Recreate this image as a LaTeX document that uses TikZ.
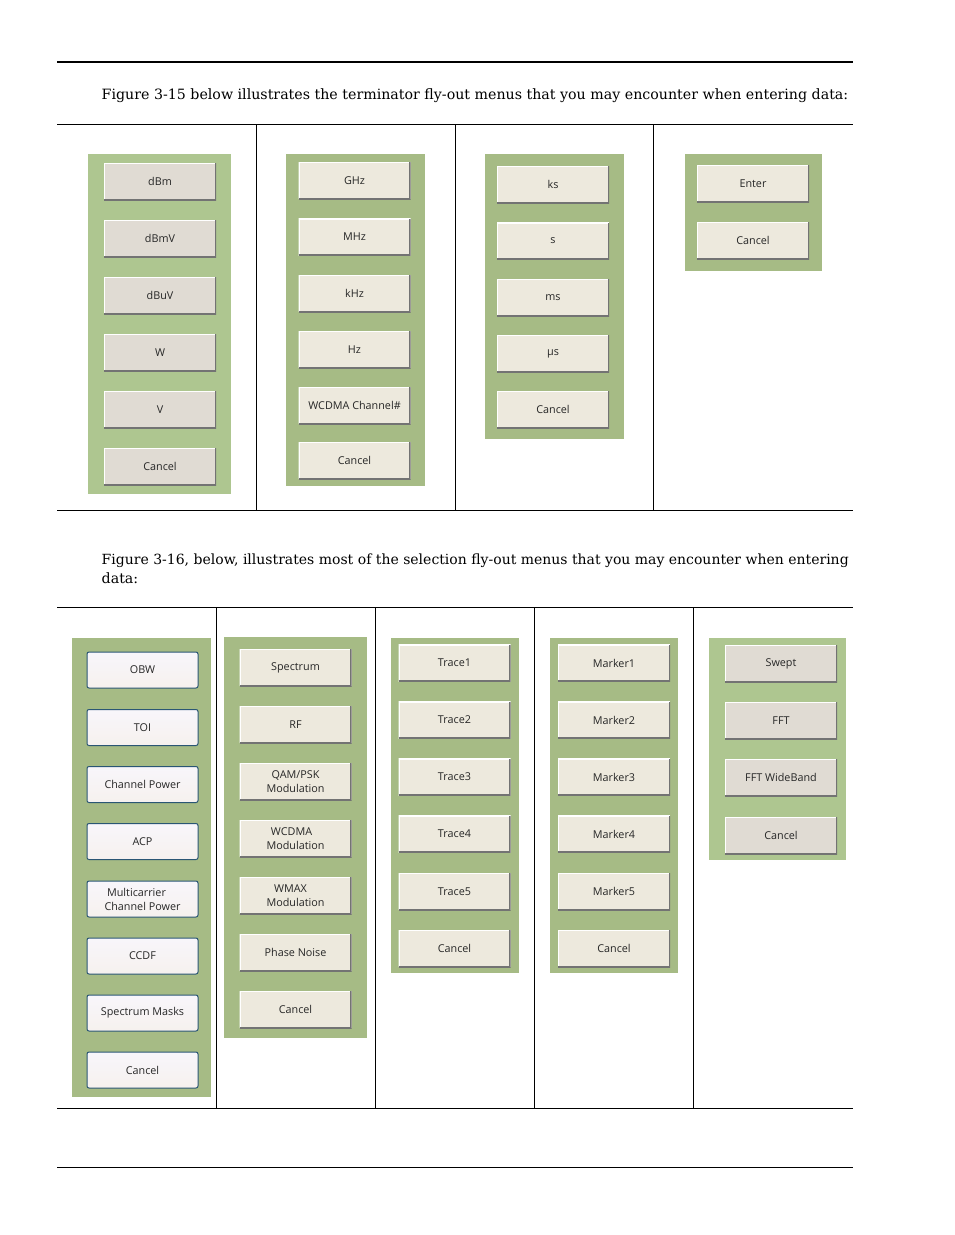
\documentclass[tikz,border=0pt]{standalone}
\usepackage{fontspec}
\usepackage{xcolor}
\setmainfont{DejaVu Serif}
\newfontfamily\btnfont{Open Sans}
\definecolor{panelA}{HTML}{AEC690}
\definecolor{panelB}{HTML}{A6BB85}
\definecolor{faceA}{HTML}{E0DBD3}
\definecolor{faceB}{HTML}{EDE9DD}
\definecolor{edgeC}{HTML}{2A5674}
\definecolor{topC}{HTML}{F8F6FB}
\definecolor{bottomC}{HTML}{F6F1EE}
\tikzset{
 menubtn/.style={inner sep=0pt, minimum width=112pt, minimum height=37pt, align=center,
  font=\btnfont\fontsize{10.8}{14}\selectfont, text=black!85,
  path picture={
   \draw [white, line width=2pt] (path picture bounding box.south west) |- (path picture bounding box.north east);
   \draw [black!55, line width=2.4pt] (path picture bounding box.south west) -| (path picture bounding box.north east);
  }},
 btnA/.style={menubtn, fill=faceA},
 btnB/.style={menubtn, fill=faceB},
 btnC/.style={inner sep=0pt, minimum width=111pt, minimum height=36pt, align=center,
  font=\btnfont\fontsize{10.8}{14}\selectfont, text=black!85,
  top color=topC, bottom color=bottomC, draw=edgeC, line width=1pt, rounded corners=2pt},
 para/.style={anchor=base west, inner sep=0pt, font=\fontsize{14.2}{19}\selectfont}
}
\begin{document}
\begin{tikzpicture}[x=1pt, y=-1pt]
 \useasboundingbox (0,0) rectangle (954,1235);
 % rules of the page
 \draw [line width=1.6pt] (57,62) -- (853,62);
 \draw [line width=0.8pt] (57,124) -- (853,124);
 \draw [line width=0.8pt] (57,510.5) -- (853,510.5);
 \draw [line width=0.8pt] (57,607.5) -- (853,607.5);
 \draw [line width=0.8pt] (57,1108) -- (853,1108);
 \draw [line width=0.8pt] (57,1167.5) -- (853,1167.5);
 \foreach \x in {256.5,455.5,653.5} \draw [line width=0.8pt] (\x,124) -- (\x,510.5);
 \foreach \x in {216.5,375.5,534.5,693.5} \draw [line width=0.8pt] (\x,607.5) -- (\x,1108);
 % text
 \node [para] (intro15) at (101.5,99) {Figure 3-15 below illustrates the terminator fly-out menus that you may encounter when entering data:};
 \node [para, font=\fontsize{14}{19}\selectfont] (intro16) at (101.5,564) {Figure 3-16, below, illustrates most of the selection fly-out menus that you may encounter when entering};
 \node [para] (intro16b) at (101.5,583) {data:};
 % upper menus
 \fill [panelA] (88,154) rectangle (231,494);
 \foreach \y/\t [count=\i] in {181.5/dBm,238.5/dBmV,295.5/dBuV,352.5/W,409.5/V,466.5/Cancel}
  \node [btnA] (unitA\i) at (160,\y) {\t};
 \fill [panelB] (286,154) rectangle (425,486);
 \foreach \y/\t [count=\i] in {180.5/GHz,237/MHz,293.5/kHz,349.5/Hz,405.5/WCDMA Channel\#,460.5/Cancel}
  \node [btnB] (unitB\i) at (354.5,\y) {\t};
 \fill [panelB] (485,154) rectangle (624,439);
 \foreach \y/\t [count=\i] in {184.5/ks,241/s,297.5/ms,353.5/µs,409.5/Cancel}
  \node [btnB] (unitC\i) at (553,\y) {\t};
 \fill [panelB] (685,154) rectangle (822,271);
 \foreach \y/\t [count=\i] in {183.5/Enter,240.5/Cancel}
  \node [btnB] (unitD\i) at (753,\y) {\t};
 % lower menus
 \fill [panelB] (72,638) rectangle (211,1097);
 \foreach \y/\t [count=\i] in {670/OBW,727.5/TOI,784.5/Channel Power,841.5/ACP,{899}/{Multicarrier\hspace*{12pt}\\Channel Power},956/CCDF,1013/Spectrum Masks,1070/Cancel}
  \node [btnC] (selA\i) at (142.5,\y) {\t};
 \fill [panelB] (224,637) rectangle (367,1038);
 \foreach \y/\t [count=\i] in {667.5/Spectrum,724.5/RF,781.5/{QAM/PSK\\Modulation},838.5/{WCDMA\hspace*{8pt}\\Modulation},895.5/{WMAX\hspace*{10pt}\\Modulation},952.5/Phase Noise,1009.5/Cancel}
  \node [btnB] (selB\i) at (295.5,\y) {\t};
 \fill [panelB] (391,638) rectangle (519,973);
 \foreach \y/\t [count=\i] in {663/Trace1,720/Trace2,777/Trace3,834/Trace4,891.5/Trace5,948.5/Cancel}
  \node [btnB] (selC\i) at (454.5,\y) {\t};
 \fill [panelB] (550,638) rectangle (678,973);
 \foreach \y/\t [count=\i] in {663/Marker1,720/Marker2,777/Marker3,834/Marker4,891.5/Marker5,948.5/Cancel}
  \node [btnB] (selD\i) at (614,\y) {\t};
 \fill [panelA] (709,638) rectangle (846,860);
 \foreach \y/\t [count=\i] in {663.5/Swept,720.5/FFT,777.5/FFT WideBand,835.5/Cancel}
  \node [btnA] (selE\i) at (781,\y) {\t};
\end{tikzpicture}
\end{document}
